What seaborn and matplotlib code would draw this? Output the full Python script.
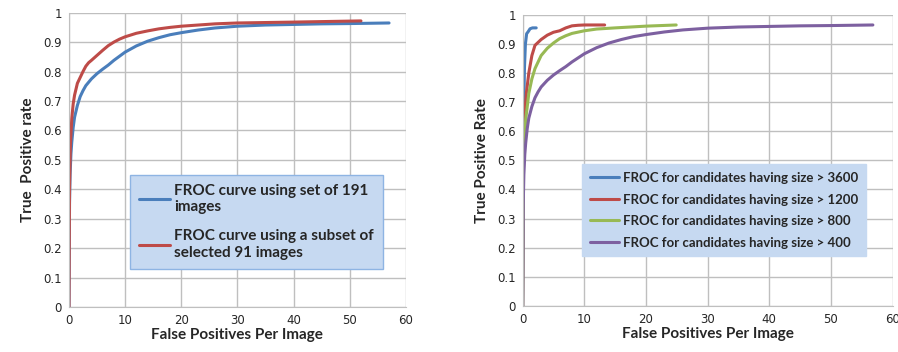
import matplotlib
matplotlib.use("Agg")
import matplotlib.pyplot as plt
import seaborn as sns

# Left panel: FROC for all 191 images vs. subset of 91 images
fp_all = [0, 0.1, 0.2, 0.35, 0.5, 0.75, 1, 1.5, 2, 2.5, 3, 4, 5, 6, 7, 8, 9, 10, 12, 14, 16, 18, 20, 23, 26, 30, 35, 40, 45, 50, 57]
tpr_all = [0, 0.35, 0.45, 0.52, 0.56, 0.61, 0.645, 0.685, 0.715, 0.735, 0.752, 0.775, 0.793, 0.808, 0.822, 0.838, 0.852, 0.866,
           0.887, 0.903, 0.915, 0.925, 0.932, 0.941, 0.948, 0.954, 0.958, 0.96, 0.962, 0.963, 0.965]
fp_sub = [0, 0.1, 0.25, 0.5, 0.75, 1, 1.5, 2, 2.5, 3, 3.5, 4, 5, 6, 7, 8, 9, 10, 12, 14, 16, 18, 20, 23, 26, 30, 40, 52]
tpr_sub = [0, 0.4, 0.55, 0.64, 0.69, 0.72, 0.76, 0.78, 0.8, 0.818, 0.83, 0.838, 0.855, 0.872, 0.888, 0.9, 0.91, 0.918,
           0.93, 0.938, 0.945, 0.95, 0.954, 0.958, 0.962, 0.965, 0.968, 0.972]
left_labels = ["FROC curve using set of 191\nimages",
               "FROC curve using a subset of\nselected 91 images"]

# Right panel: FROC by candidate size threshold
fp_3600 = [0, 0.1, 0.2, 0.3, 0.45, 0.65, 0.9, 1.2, 1.6, 2.2]
tpr_3600 = [0, 0.5, 0.7, 0.82, 0.9, 0.935, 0.942, 0.952, 0.955, 0.955]
fp_1200 = [0, 0.1, 0.3, 0.6, 1, 1.5, 2, 2.5, 3, 4, 5, 6, 7, 8, 9, 10, 13.3]
tpr_1200 = [0, 0.5, 0.65, 0.73, 0.8, 0.86, 0.895, 0.905, 0.915, 0.93, 0.94, 0.945, 0.955, 0.962, 0.964, 0.965, 0.965]
fp_800 = [0, 0.1, 0.3, 0.5, 1, 1.5, 2, 3, 4, 5, 6, 7, 8, 10, 12, 15, 20, 24.9]
tpr_800 = [0, 0.45, 0.58, 0.64, 0.73, 0.78, 0.815, 0.86, 0.885, 0.903, 0.918, 0.928, 0.936, 0.945, 0.951, 0.955, 0.961, 0.965]
fp_400 = [0, 0.1, 0.2, 0.35, 0.5, 0.75, 1, 1.5, 2, 2.5, 3, 4, 5, 6, 7, 8, 9, 10, 12, 14, 16, 18, 20, 23, 26, 30, 35, 40, 45, 50, 56.8]
tpr_400 = [0, 0.35, 0.45, 0.52, 0.56, 0.61, 0.645, 0.685, 0.715, 0.735, 0.752, 0.775, 0.793, 0.808, 0.822, 0.838, 0.852, 0.866,
           0.887, 0.903, 0.915, 0.925, 0.932, 0.941, 0.948, 0.954, 0.958, 0.96, 0.962, 0.963, 0.965]
right_labels = ["FROC for candidates having size > 3600",
                "FROC for candidates having size > 1200",
                "FROC for candidates having size > 800",
                "FROC for candidates having size > 400"]

blue, red, green, purple = "#4a7ebb", "#be4b48", "#98b954", "#7d60a0"

sns.set_style("white")
plt.rcParams["font.family"] = ["DejaVu Sans"]

fig = plt.figure(figsize=(8.98, 3.52), dpi=100)
ax1 = fig.add_axes([0.0768, 0.128, 0.3752, 0.836])
ax2 = fig.add_axes([0.582, 0.131, 0.412, 0.827])

sns.lineplot(x=fp_all, y=tpr_all, ax=ax1, color=blue, lw=2.2, label=left_labels[0], estimator=None, sort=False)
sns.lineplot(x=fp_sub, y=tpr_sub, ax=ax1, color=red, lw=2.2, label=left_labels[1], estimator=None, sort=False)

for xs, ys, c, lab in [(fp_3600, tpr_3600, blue, right_labels[0]),
                       (fp_1200, tpr_1200, red, right_labels[1]),
                       (fp_800, tpr_800, green, right_labels[2]),
                       (fp_400, tpr_400, purple, right_labels[3])]:
    sns.lineplot(x=xs, y=ys, ax=ax2, color=c, lw=2.2, label=lab, estimator=None, sort=False)

lab_font = dict(family="Lato", weight="bold", size=11)
for ax, ylab in [(ax1, "True  Positive rate"), (ax2, "True Positive Rate")]:
    ax.set_xlim(0, 60)
    ax.set_ylim(0, 1)
    ax.set_xticks(range(0, 61, 10))
    ax.set_yticks([i / 10 for i in range(11)])
    ax.set_yticklabels(["0", "0.1", "0.2", "0.3", "0.4", "0.5", "0.6", "0.7", "0.8", "0.9", "1"])
    ax.grid(True, color="#bfbfbf", lw=1)
    ax.set_axisbelow(True)
    for s in ax.spines.values():
        s.set_color("#bfbfbf")
    ax.spines["top"].set_visible(False)
    ax.spines["right"].set_visible(False)
    ax.tick_params(length=0, labelsize=8.5, pad=5, labelcolor="#262626")
    ax.set_xlabel("False Positives Per Image", labelpad=1, **lab_font)
    ax.set_ylabel(ylab, labelpad=6, **lab_font)

leg1 = ax1.legend(loc="upper left", bbox_to_anchor=(0.181, 0.449), borderaxespad=0,
                  prop=dict(family="Lato", weight="bold", size=11),
                  frameon=True, fancybox=False, handlelength=2.0, handletextpad=0.3,
                  labelspacing=1.0, borderpad=0.6)
leg1.get_frame().set_facecolor("#c6d9f1")
leg1.get_frame().set_edgecolor("#8eb4e3")
leg1.get_frame().set_alpha(1)

leg2 = ax2.legend(loc="upper left", bbox_to_anchor=(0.16, 0.487), borderaxespad=0,
                  prop=dict(family="Lato", weight="bold", size=9.5),
                  frameon=True, fancybox=False, handlelength=2.2, handletextpad=0.3,
                  labelspacing=0.72, borderpad=0.6)
leg2.get_frame().set_facecolor("#c6d9f1")
leg2.get_frame().set_edgecolor("#c6d9f1")
leg2.get_frame().set_alpha(1)

fig.savefig("out.png", dpi=100)
